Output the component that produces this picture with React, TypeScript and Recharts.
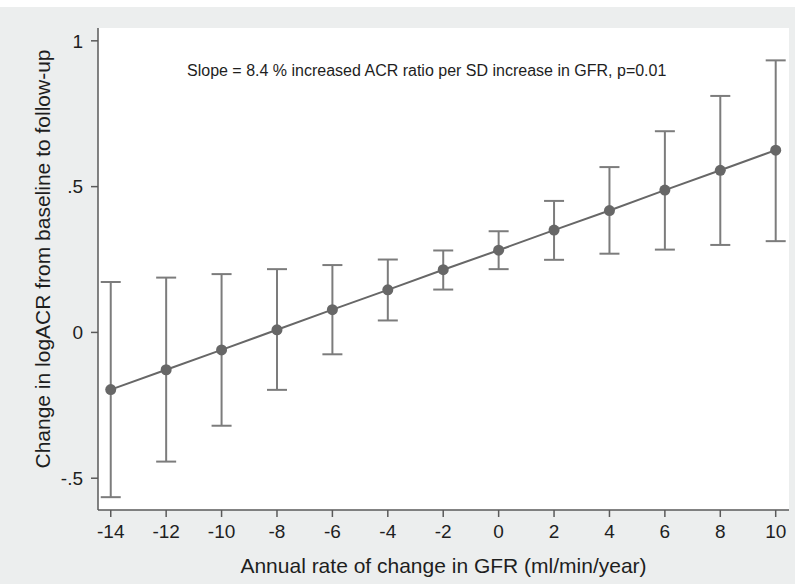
import React from 'react';
import { ComposedChart, Line, ErrorBar, XAxis, YAxis, CartesianGrid } from 'recharts';

const gfrChange = [-14, -12, -10, -8, -6, -4, -2, 0, 2, 4, 6, 8, 10];
const estimate = [-0.196, -0.128, -0.06, 0.009, 0.078, 0.146, 0.215, 0.282, 0.351, 0.418, 0.488, 0.556, 0.625];
const lowerCI = [-0.565, -0.443, -0.32, -0.197, -0.075, 0.041, 0.147, 0.217, 0.249, 0.27, 0.284, 0.3, 0.313];
const upperCI = [0.173, 0.188, 0.2, 0.217, 0.231, 0.25, 0.281, 0.347, 0.451, 0.567, 0.69, 0.811, 0.933];

const xTicks = [-14, -12, -10, -8, -6, -4, -2, 0, 2, 4, 6, 8, 10];
const yTicks = [-0.5, 0, 0.5, 1];
const yTickLabels: Record<string, string> = { '-0.5': '-.5', '0': '0', '0.5': '.5', '1': '1' };

const xTitle = 'Annual rate of change in GFR (ml/min/year)';
const yTitle = 'Change in logACR from baseline to follow-up';
const annotation = 'Slope = 8.4 % increased ACR ratio per SD increase in GFR, p=0.01';

const data = gfrChange.map((x, i) => ({
  x,
  y: estimate[i],
  err: [estimate[i] - lowerCI[i], upperCI[i] - estimate[i]],
}));

const FONT = '"Liberation Sans", Arial, Helvetica, sans-serif';
const BG = '#eceeee';
const MARK = '#676767';
const BAR = '#7c7c7c';
const AXIS = '#5a5a5a';
const TICK_FONT = 19;

const renderYTitle = (props: any) => {
  const vb = props.viewBox || {};
  const cx = (vb.x ?? 0) + 42;
  const cy = (vb.y ?? 0) + (vb.height ?? 0) / 2 - 10;
  return (
    <text
      x={cx}
      y={cy}
      transform={`rotate(-90, ${cx}, ${cy})`}
      textAnchor="middle"
      dominantBaseline="central"
      fontSize={21}
      fontFamily={FONT}
      fill="#1e1e1e"
    >
      {yTitle}
    </text>
  );
};

const XTick = (props: any) => {
  const { x, y, payload } = props;
  return (
    <text x={x} y={y} dy="0.71em" textAnchor="middle" fontSize={TICK_FONT} fontFamily={FONT} fill="#1e1e1e">
      {String(payload.value)}
    </text>
  );
};

const YTick = (props: any) => {
  const { x, y, payload } = props;
  const v = payload.value;
  return (
    <text x={x} y={y} dy="0.355em" textAnchor="end" fontSize={TICK_FONT} fontFamily={FONT} fill="#1e1e1e">
      {yTickLabels[String(v)] ?? String(v)}
    </text>
  );
};

export default function App() {
  return (
    <div style={{ position: 'absolute', left: 0, top: 0, width: 795, height: 584, background: '#ffffff', overflow: 'hidden' }}>
      <div style={{ position: 'absolute', left: 0, top: 7, width: 795, height: 577, background: BG }} />
      <div style={{ position: 'absolute', left: 0, top: 0 }}>
        <ComposedChart
          width={795}
          height={584}
          data={data}
          margin={{ top: 28, right: 6, left: 0, bottom: 0 }}
          style={{ fontFamily: FONT }}
        >
          <CartesianGrid horizontal={false} vertical={false} fill="#ffffff" stroke="none" />
          <XAxis
            type="number"
            dataKey="x"
            domain={[-14.46, 10.48]}
            allowDataOverflow
            ticks={xTicks}
            interval={0}
            height={74}
            tickSize={7}
            tickMargin={8}
            axisLine={{ stroke: AXIS, strokeWidth: 1.5 }}
            tickLine={{ stroke: AXIS, strokeWidth: 1.5 }}
            tick={<XTick />}
            label={{ value: xTitle, position: 'insideBottom', offset: 11, fontSize: 21, fill: '#1e1e1e', fontFamily: FONT }}
          />
          <YAxis
            type="number"
            domain={[-0.609, 1.044]}
            allowDataOverflow
            ticks={yTicks}
            interval={0}
            width={98}
            tickSize={7}
            tickMargin={8}
            axisLine={{ stroke: AXIS, strokeWidth: 1.5 }}
            tickLine={{ stroke: AXIS, strokeWidth: 1.5 }}
            tick={<YTick />}
            label={renderYTitle}
          />
          <Line
            type="linear"
            dataKey="y"
            stroke={MARK}
            strokeWidth={2}
            dot={{ r: 5.5, fill: MARK, stroke: MARK, strokeWidth: 0 }}
            activeDot={false}
            isAnimationActive={false}
          >
            <ErrorBar dataKey="err" direction="y" width={10} stroke={BAR} strokeWidth={2} isAnimationActive={false} />
          </Line>
          <text x={187} y={76} fontSize={16} fontFamily={FONT} fill="#1e1e1e">
            {annotation}
          </text>
        </ComposedChart>
      </div>
    </div>
  );
}
